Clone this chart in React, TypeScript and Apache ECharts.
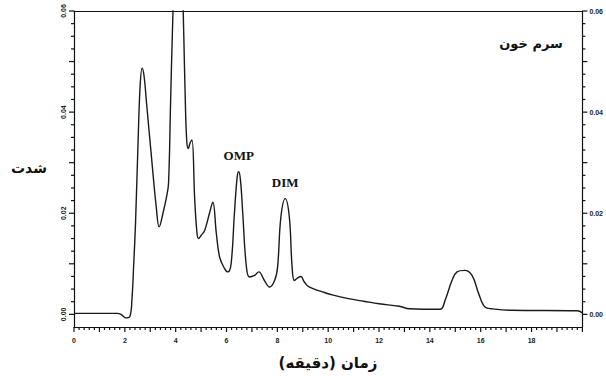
import React, { useEffect, useRef } from "react";
import * as echarts from "echarts";

// Chromatogram trace: [time (min), intensity]
const traceTime: number[] = [
  0, 1.0, 1.7, 1.85, 2.05, 2.2, 2.28, 2.35, 2.42, 2.52, 2.6, 2.68, 2.76, 2.85, 3.05, 3.24, 3.35, 3.5, 3.65, 3.72,
  3.8, 3.87, 3.95, 4.05, 4.15, 4.25, 4.32, 4.38, 4.44, 4.5, 4.56, 4.64, 4.75, 4.84, 4.9, 5.0, 5.14, 5.33, 5.46,
  5.6, 5.73, 5.92, 6.05, 6.18, 6.31, 6.42, 6.48, 6.55, 6.64, 6.77, 6.9, 7.1, 7.27, 7.49, 7.69, 7.9, 8.01, 8.14,
  8.31, 8.47, 8.58, 8.67, 8.8, 8.93, 9.05, 9.2, 9.4, 9.8, 10.2, 10.8, 11.4, 12.0, 12.8, 13.2, 14.4, 14.6, 14.87,
  15.07, 15.37, 15.66, 15.92, 16.18, 16.44, 17.2, 19.8, 20,
];
const traceIntensity: number[] = [
  0.0002, 0.0002, 0.0002, 0.0, -0.0007, -0.0004, 0.003, 0.01, 0.018, 0.034, 0.045, 0.0487, 0.047, 0.042, 0.031,
  0.021, 0.0173, 0.02, 0.0235, 0.026, 0.042, 0.0556, 0.068, 0.078, 0.078, 0.068, 0.055, 0.042, 0.034, 0.0328,
  0.0338, 0.0345, 0.0226, 0.016, 0.015, 0.0156, 0.0166, 0.02, 0.0222, 0.016, 0.0113, 0.0091, 0.0084, 0.01, 0.0199,
  0.0272, 0.0282, 0.0265, 0.0199, 0.01, 0.0074, 0.0077, 0.0084, 0.0067, 0.0054, 0.0068, 0.0094, 0.0193, 0.0229,
  0.0193, 0.0094, 0.0067, 0.0072, 0.0075, 0.0065, 0.0056, 0.0051, 0.0044, 0.0038, 0.0031, 0.0026, 0.0021, 0.0016,
  0.0011, 0.001, 0.0028, 0.0067, 0.0084, 0.0087, 0.0077, 0.0041, 0.0014, 0.0011, 0.0008, 0.0007, 0.0003,
];

// Axis ticks and labels
const yLabelValues: number[] = [0, 0.02, 0.04, 0.06];
const yMediumStep = 0.01;
const yMinorStep = 0.0025;
const xLabelValues: number[] = [0, 2, 4, 6, 8, 10, 12, 14, 16, 18];
const xMajorStep = 1;
const xMinorStep = 0.2;

const peakLabels: { name: string; x: number; y: number }[] = [
  { name: "OMP", x: 6.48, y: 0.0282 },
  { name: "DIM", x: 8.31, y: 0.0229 },
];

const yTitle = "شدت";
const xTitle = "زمان (دقیقه)";
const sampleTitle = "سرم خون";

const XMIN = 0;
const XMAX = 20;
const YMIN = -0.0025;
const YMAX = 0.06;

export default function App() {
  const ref = useRef<HTMLDivElement>(null);
  useEffect(() => {
    if (!ref.current) return;
    const chart = echarts.init(ref.current, null, { renderer: "svg" });
    const axisColor = "#111";
    const labelFont = { fontFamily: "Liberation Sans", fontSize: 7, fontWeight: "bold" as const, color: "#222" };
    const isLabel = (v: number) => yLabelValues.some((l) => Math.abs(l - v) < 1e-9);
    const mkY = (pos: "left" | "right") => ({
      type: "value" as const,
      position: pos,
      min: YMIN,
      max: YMAX,
      interval: yMinorStep,
      splitLine: { show: false },
      axisLine: { show: true, onZero: false, lineStyle: { color: axisColor, width: 1.2 } },
      axisTick: { show: false },
      axisLabel: {
        show: true,
        interval: 0,
        hideOverlap: false,
        formatter: (v: number) => (isLabel(v) ? v.toFixed(2) : ""),
        rotate: pos === "left" ? 90 : 0,
        margin: 7,
        ...labelFont,
      },
    });
    const data = traceTime.map((t, i) => [t, traceIntensity[i]]);

    const texts: any[] = [
      {
        type: "text",
        x: 29,
        y: 168,
        style: { text: yTitle, fontFamily: "DejaVu Sans", fontSize: 14, fontWeight: "bold", fill: "#111", align: "center", verticalAlign: "middle" },
      },
      {
        type: "text",
        x: 328,
        y: 363,
        style: { text: xTitle, fontFamily: "DejaVu Sans", fontSize: 15, fontWeight: "bold", fill: "#111", align: "center", verticalAlign: "middle" },
      },
      {
        type: "text",
        x: 531,
        y: 43,
        style: { text: sampleTitle, fontFamily: "DejaVu Sans", fontSize: 13, fontWeight: "bold", fill: "#111", align: "center", verticalAlign: "middle" },
      },
    ];

    chart.setOption({
      animation: false,
      grid: { left: 74, right: 22, top: 11, bottom: 49, show: false },
      xAxis: [
        {
          type: "value",
          min: XMIN,
          max: XMAX,
          interval: 1,
          position: "bottom",
          splitLine: { show: false },
          axisLine: { show: true, onZero: false, lineStyle: { color: axisColor, width: 1.2 } },
          axisTick: { show: false },
          axisLabel: {
            margin: 10,
            formatter: (v: number) => (xLabelValues.indexOf(v) >= 0 ? String(v) : ""),
            ...labelFont,
          },
        },
        {
          type: "value",
          min: XMIN,
          max: XMAX,
          position: "top",
          splitLine: { show: false },
          axisLine: { show: true, onZero: false, lineStyle: { color: axisColor, width: 1.2 } },
          axisTick: { show: false },
          axisLabel: { show: false },
        },
      ],
      yAxis: [mkY("left"), mkY("right")],
      graphic: texts,
      series: [
        {
          type: "line",
          data,
          xAxisIndex: 0,
          yAxisIndex: 0,
          showSymbol: false,
          smooth: 0.4,
          clip: true,
          lineStyle: { color: "#1a1a1a", width: 1.4 },
          markPoint: {
            symbol: "circle",
            symbolSize: 0,
            data: peakLabels.map((p) => ({ coord: [p.x, p.y], value: p.name })),
            label: {
              show: true,
              position: "top",
              distance: 10,
              formatter: (p: any) => p.value,
              fontFamily: "Liberation Serif",
              fontWeight: "bold",
              fontSize: 13,
              color: "#111",
            },
          },
        },
      ],
    });

    // Tick marks placed through the chart's own scales
    const finder = { xAxisIndex: 0, yAxisIndex: 0 };
    const toPx = (x: number, y: number) => chart.convertToPixel(finder, [x, y]) as number[];
    const near = (v: number, step: number) => Math.abs(v / step - Math.round(v / step)) < 1e-6;
    const tickStyle = { stroke: axisColor, lineWidth: 1.2 };
    const ticks: any[] = [];
    const nx = Math.round((XMAX - XMIN) / xMinorStep);
    for (let i = 0; i <= nx; i++) {
      const v = XMIN + i * xMinorStep;
      const p = toPx(v, YMIN);
      const len = near(v, xMajorStep) ? 5 : 3;
      ticks.push({ type: "line", silent: true, shape: { x1: p[0], y1: p[1], x2: p[0], y2: p[1] + len }, style: { ...tickStyle } });
    }
    const ny = Math.round(YMAX / yMinorStep);
    for (let i = 0; i <= ny; i++) {
      const v = i * yMinorStep;
      const len = near(v, yMediumStep) ? 5 : 3;
      const pl = toPx(XMIN, v);
      const pr = toPx(XMAX, v);
      ticks.push({ type: "line", silent: true, shape: { x1: pl[0] - len, y1: pl[1], x2: pl[0], y2: pl[1] }, style: { ...tickStyle } });
      ticks.push({ type: "line", silent: true, shape: { x1: pr[0], y1: pr[1], x2: pr[0] + len, y2: pr[1] }, style: { ...tickStyle } });
    }
    chart.setOption({ graphic: texts.concat(ticks) });

    return () => chart.dispose();
  }, []);
  return <div ref={ref} style={{ position: "fixed", left: 0, top: 0, width: 606, height: 376, background: "#fff" }} />;
}
